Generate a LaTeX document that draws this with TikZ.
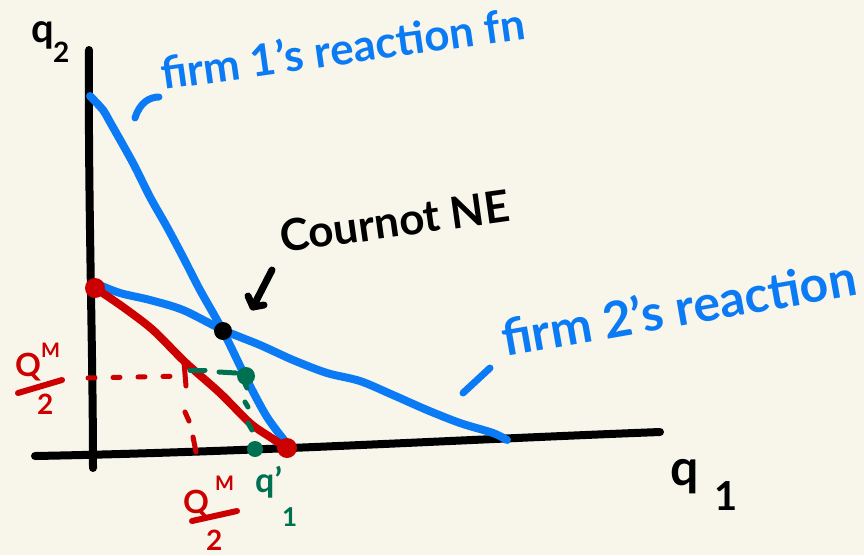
\documentclass[tikz,border=0pt]{standalone}
\usepackage{fontspec}
\setmainfont{Lato}
\usetikzlibrary{arrows.meta}
\definecolor{bg}{RGB}{248,246,234}
\definecolor{pblue}{RGB}{10,122,245}
\definecolor{pred}{RGB}{204,0,0}
\definecolor{pgreen}{RGB}{0,112,82}
\begin{document}
\begin{tikzpicture}[x=1pt,y=-1pt, line cap=round, line join=round,
 axis/.style={line width=8pt, black},
 curveb/.style={line width=8pt, pblue},
 redl/.style={line width=8pt, pred},
 redmark/.style={line width=5pt, pred},
 greenmark/.style={line width=5pt, pgreen},
 reddash/.style={line width=5pt, pred, dash pattern=on 7pt off 18pt},
 lbl/.style={inner sep=0pt, font=\bfseries\fontsize{44}{48}\selectfont},
 mlbl/.style={inner sep=0pt, anchor=base west},
 ]
\fill[bg] (0,0) rectangle (864,555);
\useasboundingbox (0,0) rectangle (864,555);

% axes
\coordinate (ytop) at (89,50); \coordinate (ybot) at (93,468);
\draw[axis] (ytop) .. controls (88,200) and (93,350) .. (ybot);
\coordinate (xl) at (35,456); \coordinate (xr) at (660,432);
\draw[axis] (xl) .. controls (250,452) and (450,440) .. (xr);

% firm 1 reaction
\draw[curveb] plot[smooth, tension=0.5] coordinates {(90,96) (103,110) (110,122) (133,163) (150,197) (167,227) (183,257) (200,290) (223,331) (247,380) (267,417) (288,445)};
% firm 2 reaction
\draw[curveb] plot[smooth, tension=0.5] coordinates {(97,284) (120,293) (150,300) (183,310) (223,330) (260,345) (293,360) (327,373) (360,381) (393,395) (427,410) (460,423) (493,433) (507,440)};

% red line
\draw[redl] plot[smooth, tension=0.5] coordinates {(95,288) (123,307) (153,330) (185,362) (220,393) (250,423) (270,437) (287,448)};
\fill[pred] (95,288) circle (10);
\fill[pred] (287,448) circle (10);
\draw[redmark] (184,362) -- (186,386);
\draw[reddash] (88,378) -- (186,376);
\draw[redmark] (185,412) -- (189,421);
\draw[redmark] (193,437) -- (196,452);

% green marks
\draw[greenmark] (190,370) -- (205,370);
\draw[greenmark] (219,372) -- (236,373);
\fill[pgreen] (246,376) circle (9);
\draw[greenmark] (245,384) -- (247,388);
\draw[greenmark] (245,402) -- (248,407);
\draw[greenmark] (248,423) -- (252,430);
\fill[pgreen] (255,449) circle (8);

% Cournot NE point
\fill[black] (223,331) circle (9);
\coordinate (arrs) at (272,270); \coordinate (arrt) at (253,307);
\coordinate (hka) at (248,296); \coordinate (hkb) at (264,305);
\draw[line width=7pt] (arrs) -- (arrt);
\draw[line width=7pt] (hka) -- (arrt) -- (hkb);

% blue leader strokes
\draw[curveb, line width=7pt] (135,118) .. controls (140,102) and (150,97) .. (159,97);
\draw[curveb, line width=7pt] (463,393) -- (490,368);

% texts
\node[lbl, text=pblue, rotate=8, anchor=base west] (f1) at (163,90) {firm 1's reaction fn};
\node[lbl, text=pblue, rotate=10, anchor=base west, font=\bfseries\fontsize{50}{52}\selectfont] (f2) at (505,357) {firm 2's reaction};
\node[lbl, rotate=8, anchor=base west] (ne) at (282,253) {Cournot NE};

% q2
\node[mlbl, font=\bfseries\fontsize{40}{40}\selectfont] (q2q) at (31,42) {q};
\node[mlbl, font=\bfseries\fontsize{28}{28}\selectfont] (q2s) at (53,62) {2};
% q1
\node[mlbl, font=\bfseries\fontsize{50}{50}\selectfont] (q1q) at (670,485) {q};
\node[mlbl, font=\bfseries\fontsize{40}{40}\selectfont] (q1s) at (714,510) {1};

% Q^M/2 left
\node[mlbl, text=pred, font=\bfseries\fontsize{32}{32}\selectfont] (qla) at (15,376) {Q};
\node[mlbl, text=pred, font=\bfseries\fontsize{20}{20}\selectfont] (qlm) at (41,357) {M};
\draw[redmark, line width=6pt] (18,393) -- (62,380);
\node[mlbl, text=pred, font=\bfseries\fontsize{28}{28}\selectfont] (qlt) at (37,414) {2};
% Q^M/2 bottom
\node[mlbl, text=pred, font=\bfseries\fontsize{32}{32}\selectfont] (qba) at (183,513) {Q};
\node[mlbl, text=pred, font=\bfseries\fontsize{20}{20}\selectfont] (qbm) at (215,490) {M};
\draw[redmark, line width=6pt] (192,521) -- (237,511);
\node[mlbl, text=pred, font=\bfseries\fontsize{28}{28}\selectfont] (qbt) at (206,550) {2};

% q1'
\node[mlbl, text=pgreen, font=\bfseries\fontsize{34}{34}\selectfont] (gq) at (255,492) {q'};
\node[mlbl, text=pgreen, font=\bfseries\fontsize{26}{26}\selectfont] (gs) at (282,526) {1};
\end{tikzpicture}
\end{document}
